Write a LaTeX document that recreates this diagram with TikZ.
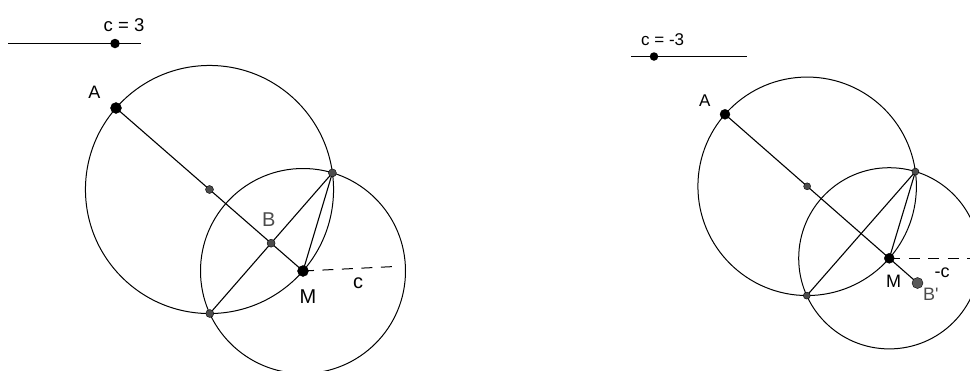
\documentclass[tikz,border=0pt]{standalone}
\usepackage{fontspec}
\setmainfont{Liberation Sans}
\usepackage{xcolor}
\usetikzlibrary{backgrounds}

\definecolor{ptgray}{gray}{0.3}

\begin{document}
\begin{tikzpicture}[x=1pt, y=-1pt,
    bigpt/.style={circle, fill=black, draw=black, inner sep=0pt, minimum size=#1},
    bigpt/.default=11pt,
    smallpt/.style={circle, fill=ptgray, draw=black, line width=0.4pt, inner sep=0pt, minimum size=#1},
    smallpt/.default=8pt,
    knob/.style={circle, fill=black, inner sep=0pt, minimum size=#1},
    lbl/.style={inner sep=0pt, anchor=base west, font=\fontsize{#1}{#1}\selectfont},
    lbl/.default=18,
    seg/.style={line width=1.1pt},
    bar/.style={line width=0.9pt},
    circ/.style={line width=1pt},
    dashline/.style={line width=1pt, dash pattern=on 11pt off 8.5pt},
]
\useasboundingbox (0,0) rectangle (970,370);

% slider c = 3
\coordinate (s1a) at (8,43.5);
\coordinate (s1b) at (141,43.5);
\node[lbl=18.5] (s1txt) at (103.5,31) {c = 3};

% left construction, c = 3
\node[bigpt] (A1) at (116,108) {};
\node[bigpt] (M1) at (303,271) {};
\node[smallpt] (O1) at (209.5,189.5) {};
\node[smallpt] (B1) at (271.1,243.2) {};
\node[smallpt] (P1) at (332.4,172.9) {};
\node[smallpt] (Q1) at (209.8,313.5) {};
\coordinate (cEnd1) at (395,266.5);

\node[lbl] (lA1) at (88.2,98.5) {A};
\node[lbl=20, text=ptgray] (lB1) at (262,226) {B};
\node[lbl=20] (lM1) at (299.5,303.5) {M};
\node[lbl=20] (lc1) at (353,288.5) {c};

% slider c = -3
\coordinate (s2a) at (631,56.5);
\coordinate (s2b) at (747,56.5);
\node[lbl=17] (s2txt) at (641,45.7) {c = -3};

% right construction, c = -3
\node[bigpt=10pt] (A2) at (725,114.3) {};
\node[bigpt=10pt] (M2) at (889.3,258.3) {};
\node[smallpt=7pt] (O2) at (807.15,186.3) {};
\node[smallpt=11pt, fill=black!65] (B2) at (917.5,283) {};
\node[smallpt=7pt] (P2) at (915.4,171.6) {};
\node[smallpt=7pt] (Q2) at (806.8,295.6) {};
\coordinate (cEnd2) at (975,258.3);

\node[lbl=17] (lA2) at (699,106.7) {A};
\node[lbl=18] (lM2) at (886,287) {M};
\node[lbl=18] (lc2) at (934.5,277) {-c};
\node[lbl=18, text=ptgray] (lB2) at (923,300.5) {B\textquotesingle};

\begin{scope}[on background layer]
  % sliders
  \draw[bar] (s1a) -- (s1b);
  \node[knob=9.5pt] (k1) at (115,43.5) {};
  \draw[bar] (s2a) -- (s2b);
  \node[knob=8.5pt] (k2) at (654,56.5) {};
  % circles
  \draw[circ] (O1) circle[radius=124.04pt];
  \draw[circ] (M1) circle[radius=102.5pt];
  \draw[circ] (O2) circle[radius=109.24pt];
  \draw[circ] (M2) circle[radius=90.6pt];
  % segments
  \draw[seg] (A1.center) -- (M1.center);
  \draw[seg] (Q1.center) -- (P1.center);
  \draw[seg] (P1.center) -- (M1.center);
  \draw[dashline] (M1.center) -- (cEnd1);
  \draw[seg] (A2.center) -- (B2.center);
  \draw[seg] (Q2.center) -- (P2.center);
  \draw[seg] (P2.center) -- (M2.center);
  \draw[dashline] (M2.center) -- (cEnd2);
\end{scope}

\end{tikzpicture}
\end{document}
